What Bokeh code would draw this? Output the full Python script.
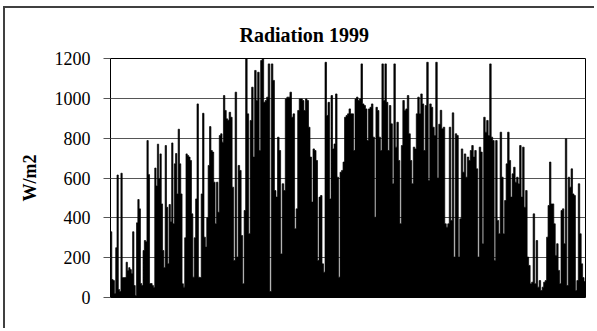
import numpy as np
from bokeh.plotting import figure
from bokeh.models import ColumnDataSource, Range1d, FixedTicker
from bokeh.embed import file_html
from bokeh.resources import INLINE

# Daily peak radiation (W/m2), month by month
january = [330, 90, 85, 20, 250, 615, 40, 30, 624, 100, 100, 100, 177, 135, 150, 140,
           120, 330, 60, 10, 375, 492, 445, 70, 60, 236, 286, 280, 788, 617, 70]
february = [70, 60, 50, 650, 560, 770, 596, 721, 470, 236, 150, 763, 453, 169, 467, 380,
            776, 370, 671, 723, 520, 845, 671, 520, 69, 52, 300, 721]
march = [713, 705, 688, 420, 102, 300, 495, 972, 102, 100, 520, 925, 303, 253, 400, 663,
         858, 738, 730, 579, 370, 579, 428, 813, 822, 780, 1014, 939, 897]
april = [890, 930, 905, 554, 186, 1031, 203, 663, 638, 311, 69, 437, 1200, 922, 320, 889,
         1056, 705, 1140, 989, 1131, 738, 1190, 1200, 980, 989]
may = [1006, 1173, 30, 1173, 1090, 537, 504, 805, 738, 219, 571, 537, 997, 1006, 1006,
       1031, 905, 922, 345, 445, 939, 997, 997, 989, 939, 997]
june = [989, 855, 705, 479, 746, 738, 688, 186, 504, 512, 169, 127, 1181, 914, 980, 495,
        1014, 746, 771, 1022, 604, 102, 629, 638, 680, 905]
july = [914, 922, 947, 922, 922, 738, 997, 1006, 989, 997, 1173, 972, 964, 947, 788, 947,
        955, 972, 805, 403, 955, 939, 805, 738, 1173, 989, 1173]
august = [980, 738, 964, 872, 571, 1173, 755, 880, 688, 370, 763, 989, 939, 947, 1014, 822,
          688, 571, 755, 746, 922, 1006, 922, 1022, 972, 738, 964]
september = [1181, 587, 972, 955, 855, 813, 1181, 600, 870, 940, 847, 855, 370, 353, 370,
             855, 387, 927, 203, 822, 813, 203, 395, 746, 629, 721]
october = [604, 705, 688, 738, 763, 705, 738, 646, 203, 755, 730, 270, 905, 830, 889, 813,
           1173, 805, 788, 186, 788, 387, 320, 830, 604, 320, 487]
november = [671, 830, 688, 504, 621, 654, 579, 604, 571, 763, 504, 755, 453, 537, 203, 161,
            69, 77, 420, 69, 286, 52, 85, 35, 52, 77]
december = [85, 303, 462, 680, 470, 470, 370, 211, 270, 136, 69, 437, 445, 270, 797, 60,
            604, 554, 646, 520, 512, 35, 85, 571, 320, 169, 100, 80]

month_days = [31, 28, 31, 30, 31, 30, 31, 31, 30, 31, 30, 31]
y_ticks = [0, 200, 400, 600, 800, 1000, 1200]

months = [january, february, march, april, may, june, july, august,
          september, october, november, december]

# build a step outline (one value per reading, spread evenly over its month)
step_x, step_y = [], []
start = 0
for nd, vals in zip(month_days, months):
    step = nd / len(vals)
    for k, v in enumerate(vals):
        step_x += [start + k * step, start + (k + 1) * step]
        step_y += [v, v]
    start += nd

src = ColumnDataSource(dict(x=step_x, y=step_y))

FONT = "Liberation Serif"

p = figure(width=591, height=322, x_range=Range1d(0, 365), y_range=Range1d(0, 1200),
           output_backend="svg", toolbar_location=None,
           min_border_left=105, min_border_right=11, min_border_top=50, min_border_bottom=33)
p.styles = {"border-top": "2px solid #404040", "border-left": "2px solid #404040",
            "margin-left": "3px", "margin-top": "6px"}

p.varea(x="x", y1=0, y2="y", source=src, fill_color="black")
p.line(x="x", y="y", source=src, line_color="black", line_width=0.7)

p.title.text = "Radiation 1999"
p.title.align = "left"
p.title.offset = 129
p.title.standoff = 25
p.title.text_font = FONT
p.title.text_font_style = "bold"
p.title.text_font_size = "20px"
p.title.text_color = "black"

p.xaxis.visible = False
p.xgrid.visible = False

p.yaxis.ticker = FixedTicker(ticks=y_ticks)
p.yaxis.major_label_text_font = FONT
p.yaxis.major_label_text_font_size = "18px"
p.yaxis.major_label_text_color = "black"
p.yaxis.major_tick_out = 7
p.yaxis.major_tick_in = 0
p.yaxis.minor_tick_line_color = None
p.yaxis.major_label_standoff = 13
p.yaxis.axis_line_color = "black"
p.yaxis.major_tick_line_color = "#555555"
p.yaxis.axis_label = "W/m2"
p.yaxis.axis_label_text_font = FONT
p.yaxis.axis_label_text_font_style = "bold"
p.yaxis.axis_label_text_font_size = "18px"
p.yaxis.axis_label_text_color = "black"
p.yaxis.axis_label_standoff = 12

p.ygrid.ticker = FixedTicker(ticks=y_ticks)
p.ygrid.grid_line_color = "#555555"
p.ygrid.grid_line_width = 1

p.outline_line_color = "black"
p.outline_line_width = 1
p.background_fill_color = "white"
p.border_fill_color = "white"

open("out.html", "w").write(file_html(p, INLINE))
